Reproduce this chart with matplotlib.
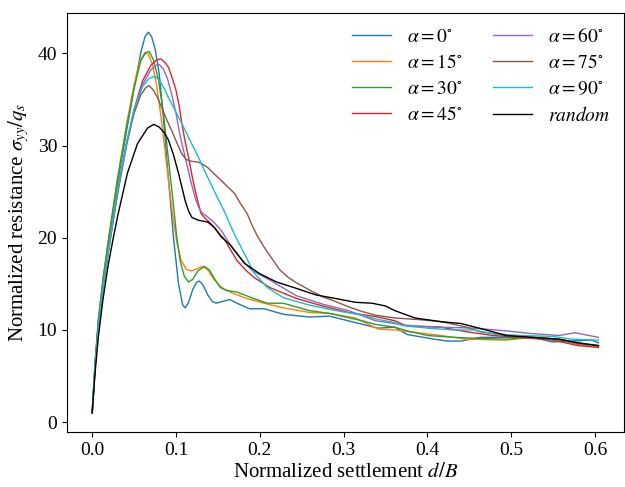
import matplotlib as mpl
mpl.use('Agg')
import matplotlib.pyplot as plt

plt.rcParams['font.family'] = ['Liberation Serif', 'DejaVu Serif']
plt.rcParams['mathtext.fontset'] = 'stix'

# alpha = 0 deg
x0 = [0, 0.0035, 0.0074, 0.013, 0.019, 0.03, 0.041, 0.05, 0.058, 0.063, 0.067, 0.071, 0.075, 0.08, 0.085,
      0.09, 0.097, 0.103, 0.108, 0.111, 0.115, 0.12, 0.125, 0.128, 0.132, 0.138, 0.143, 0.148, 0.156, 0.164,
      0.175, 0.188, 0.205, 0.228, 0.259, 0.283, 0.314, 0.341, 0.361, 0.376, 0.408, 0.423, 0.44, 0.463,
      0.494, 0.525, 0.549, 0.572, 0.596, 0.604]
y0 = [1, 6.4, 11, 15.4, 19.3, 25.8, 31.6, 36.2, 40.1, 41.8, 42.3, 41.8, 40.5, 37.8, 33,
      27.5, 20, 15, 12.7, 12.4, 13.0, 14.4, 15.2, 15.3, 14.9, 13.8, 13.1, 12.9, 13.1, 13.3,
      12.8, 12.3, 12.3, 11.7, 11.4, 11.5, 10.8, 10.2, 10.3, 9.5, 9.0, 8.8, 8.8, 9.2,
      9.2, 9.2, 8.7, 8.8, 8.9, 8.6]

# alpha = 15 deg
x15 = [0, 0.0035, 0.0074, 0.013, 0.019, 0.03, 0.041, 0.05, 0.057, 0.063, 0.067, 0.072, 0.077, 0.083, 0.09,
       0.096, 0.101, 0.106, 0.112, 0.118, 0.124, 0.132, 0.138, 0.145, 0.152, 0.158, 0.17, 0.185, 0.205,
       0.228, 0.259, 0.283, 0.314, 0.33, 0.341, 0.361, 0.388, 0.416, 0.447, 0.494, 0.525, 0.557, 0.58, 0.604]
y15 = [1, 6.4, 11, 15.4, 19.5, 26.3, 32.3, 36.6, 39.2, 40.1, 39.9, 38.8, 36.5, 32.5, 27,
       22.5, 19.5, 17.6, 16.6, 16.4, 16.6, 16.9, 16.5, 15.5, 14.8, 14.4, 13.9, 13.4, 12.9,
       12.4, 11.9, 11.8, 11.3, 10.6, 10.1, 10.0, 9.7, 9.4, 9.0, 8.9, 9.2, 9.0, 8.4, 8.2]

# alpha = 30 deg
x30 = [0, 0.0035, 0.0074, 0.013, 0.019, 0.03, 0.041, 0.05, 0.058, 0.064, 0.068, 0.073, 0.079, 0.085, 0.091,
       0.097, 0.101, 0.105, 0.11, 0.115, 0.12, 0.126, 0.134, 0.14, 0.147, 0.153, 0.16, 0.173, 0.193, 0.209,
       0.228, 0.259, 0.283, 0.322, 0.338, 0.361, 0.376, 0.4, 0.431, 0.455, 0.494, 0.525, 0.557, 0.587, 0.604]
y30 = [1, 6.5, 11.2, 15.6, 19.5, 26.2, 32.0, 36.2, 39.2, 40.1, 40.2, 39.3, 37.2, 33.5, 28.5,
       23.5, 20, 17.5, 15.8, 15.2, 15.5, 16.4, 16.9, 16.5, 15.4, 14.6, 14.3, 14.1, 13.4, 12.9,
       12.9, 12.1, 11.8, 11.0, 10.6, 10.3, 9.9, 9.4, 9.2, 9.1, 9.0, 9.2, 9.0, 8.5, 8.3]

# alpha = 45 deg
x45 = [0, 0.0035, 0.0074, 0.013, 0.021, 0.03, 0.041, 0.05, 0.06, 0.07, 0.077, 0.082, 0.087, 0.091, 0.096,
       0.1, 0.104, 0.107, 0.111, 0.115, 0.119, 0.123, 0.127, 0.13, 0.136, 0.142, 0.15, 0.158, 0.165, 0.173,
       0.183, 0.193, 0.212, 0.244, 0.275, 0.306, 0.341, 0.361, 0.376, 0.416, 0.447, 0.478, 0.51, 0.549,
       0.58, 0.604]
y45 = [1, 6.1, 10.5, 14.8, 19.6, 24.8, 30.2, 33.9, 37.0, 38.7, 39.3, 39.4, 39.0, 38.5, 37.2,
       36.0, 34.2, 32.4, 30.4, 28.7, 26.8, 25.1, 23.6, 22.6, 22.0, 21.5, 20.6, 19.8, 18.7, 17.5,
       16.5, 15.7, 14.6, 13.4, 12.6, 11.9, 11.4, 11.0, 10.4, 10.3, 9.8, 9.4, 9.2, 8.9,
       8.3, 8.1]

# alpha = 60 deg
x60 = [0, 0.0035, 0.0074, 0.013, 0.021, 0.03, 0.041, 0.05, 0.06, 0.07, 0.076, 0.08, 0.085, 0.09, 0.095,
       0.1, 0.105, 0.111, 0.118, 0.123, 0.127, 0.131, 0.136, 0.145, 0.154, 0.165, 0.175, 0.19, 0.212,
       0.244, 0.275, 0.306, 0.338, 0.376, 0.416, 0.455, 0.494, 0.525, 0.557, 0.576, 0.587, 0.604]
y60 = [1, 6.0, 10.3, 14.5, 19.4, 24.6, 30.0, 33.7, 36.6, 38.2, 38.7, 38.8, 38.3, 37.2, 35.5,
       33.5, 31.0, 28.7, 26.0, 24.3, 23.3, 22.7, 22.4, 21.7, 20.8, 19.2, 18.0, 16.5, 15.4,
       13.7, 12.8, 12.1, 11.0, 10.5, 10.3, 10.2, 9.9, 9.6, 9.4, 9.7, 9.5, 9.2]

# alpha = 75 deg
x75 = [0, 0.0035, 0.0074, 0.013, 0.021, 0.03, 0.041, 0.05, 0.058, 0.064, 0.068, 0.073, 0.078, 0.083, 0.089,
       0.095, 0.101, 0.107, 0.112, 0.118, 0.127, 0.133, 0.138, 0.146, 0.154, 0.162, 0.17, 0.177, 0.185,
       0.19, 0.197, 0.205, 0.214, 0.224, 0.234, 0.244, 0.26, 0.275, 0.29, 0.306, 0.322, 0.338, 0.361,
       0.393, 0.416, 0.432, 0.447, 0.463, 0.494, 0.525, 0.557, 0.58, 0.604]
y75 = [1, 6.1, 10.5, 14.8, 19.6, 24.9, 30.3, 33.5, 35.5, 36.3, 36.5, 36.0, 35.2, 34.1, 32.8,
       31.6, 30.3, 29.1, 28.5, 28.3, 28.2, 27.9, 27.6, 26.9, 26.2, 25.5, 24.8, 23.7, 22.6,
       21.5, 20.2, 19.0, 17.8, 16.5, 15.7, 15.1, 14.3, 13.6, 13.1, 12.5, 12.0, 11.6, 11.3,
       11.1, 10.9, 10.6, 10.3, 9.8, 9.4, 9.2, 8.9, 8.5, 8.3]

# alpha = 90 deg
x90 = [0, 0.0035, 0.0074, 0.013, 0.021, 0.03, 0.041, 0.05, 0.06, 0.068, 0.075, 0.08, 0.086, 0.091, 0.099,
       0.107, 0.117, 0.127, 0.136, 0.146, 0.158, 0.17, 0.182, 0.193, 0.209, 0.228, 0.259, 0.291, 0.322,
       0.338, 0.361, 0.369, 0.4, 0.431, 0.455, 0.478, 0.51, 0.549, 0.572, 0.604]
y90 = [1, 6.1, 10.5, 14.8, 19.6, 25.0, 30.3, 33.9, 36.4, 37.3, 37.5, 37.1, 36.2, 35.2, 33.8,
       32.4, 30.5, 28.7, 26.9, 25.0, 22.8, 20.3, 18.2, 16.2, 14.6, 13.5, 12.7, 12.1, 11.6,
       11.2, 10.8, 10.5, 10.2, 10.0, 10.0, 9.6, 9.4, 9.3, 9.0, 8.9]

# random
xr = [0, 0.0035, 0.0074, 0.013, 0.019, 0.025, 0.0305, 0.042, 0.054, 0.066, 0.0735, 0.08, 0.086, 0.091, 0.097,
      0.103, 0.107, 0.111, 0.115, 0.119, 0.127, 0.138, 0.146, 0.154, 0.165, 0.182, 0.2, 0.22, 0.244,
      0.267, 0.291, 0.314, 0.334, 0.35, 0.361, 0.385, 0.416, 0.44, 0.47, 0.494, 0.525, 0.557, 0.58, 0.604]
yr = [1, 5.4, 9.3, 13.4, 17.0, 19.9, 22.4, 27.0, 30.2, 31.9, 32.3, 32.0, 31.4, 30.6, 29.0,
      27.0, 25.5, 24.0, 22.9, 22.2, 21.9, 21.7, 21.1, 20.1, 19.2, 17.2, 16.1, 15.2, 14.5,
      13.8, 13.4, 13.0, 12.9, 12.6, 12.1, 11.3, 10.9, 10.7, 10.0, 9.4, 9.2, 9.0, 8.6, 8.3]

series = [(x0, y0, r'$\alpha=0^{\circ}$', 'C0'),
          (x15, y15, r'$\alpha=15^{\circ}$', 'C1'),
          (x30, y30, r'$\alpha=30^{\circ}$', 'C2'),
          (x45, y45, r'$\alpha=45^{\circ}$', 'C3'),
          (x60, y60, r'$\alpha=60^{\circ}$', 'C4'),
          (x75, y75, r'$\alpha=75^{\circ}$', 'C5'),
          (x90, y90, r'$\alpha=90^{\circ}$', 'C9'),
          (xr, yr, r'$random$', 'k')]

fig = plt.figure(figsize=(6.25, 4.87), dpi=100)
ax = fig.add_subplot(111)
for xs, ys, lab, col in series:
    ax.plot(xs, ys, color=col, lw=1.0, label=lab)

ax.set_xlabel(r'Normalized settlement $d/B$', fontsize=15, labelpad=3)
ax.set_ylabel(r'Normalized resistance $\sigma_{yy}/q_s$', fontsize=15, labelpad=5)
ax.tick_params(labelsize=14)
ax.legend(ncol=2, frameon=False, fontsize=14, loc='upper right', labelspacing=0.42,
          columnspacing=1.6, borderaxespad=0.3)

fig.subplots_adjust(left=0.107, right=0.998, bottom=0.113, top=0.973)
fig.savefig('out.png', dpi=100)
